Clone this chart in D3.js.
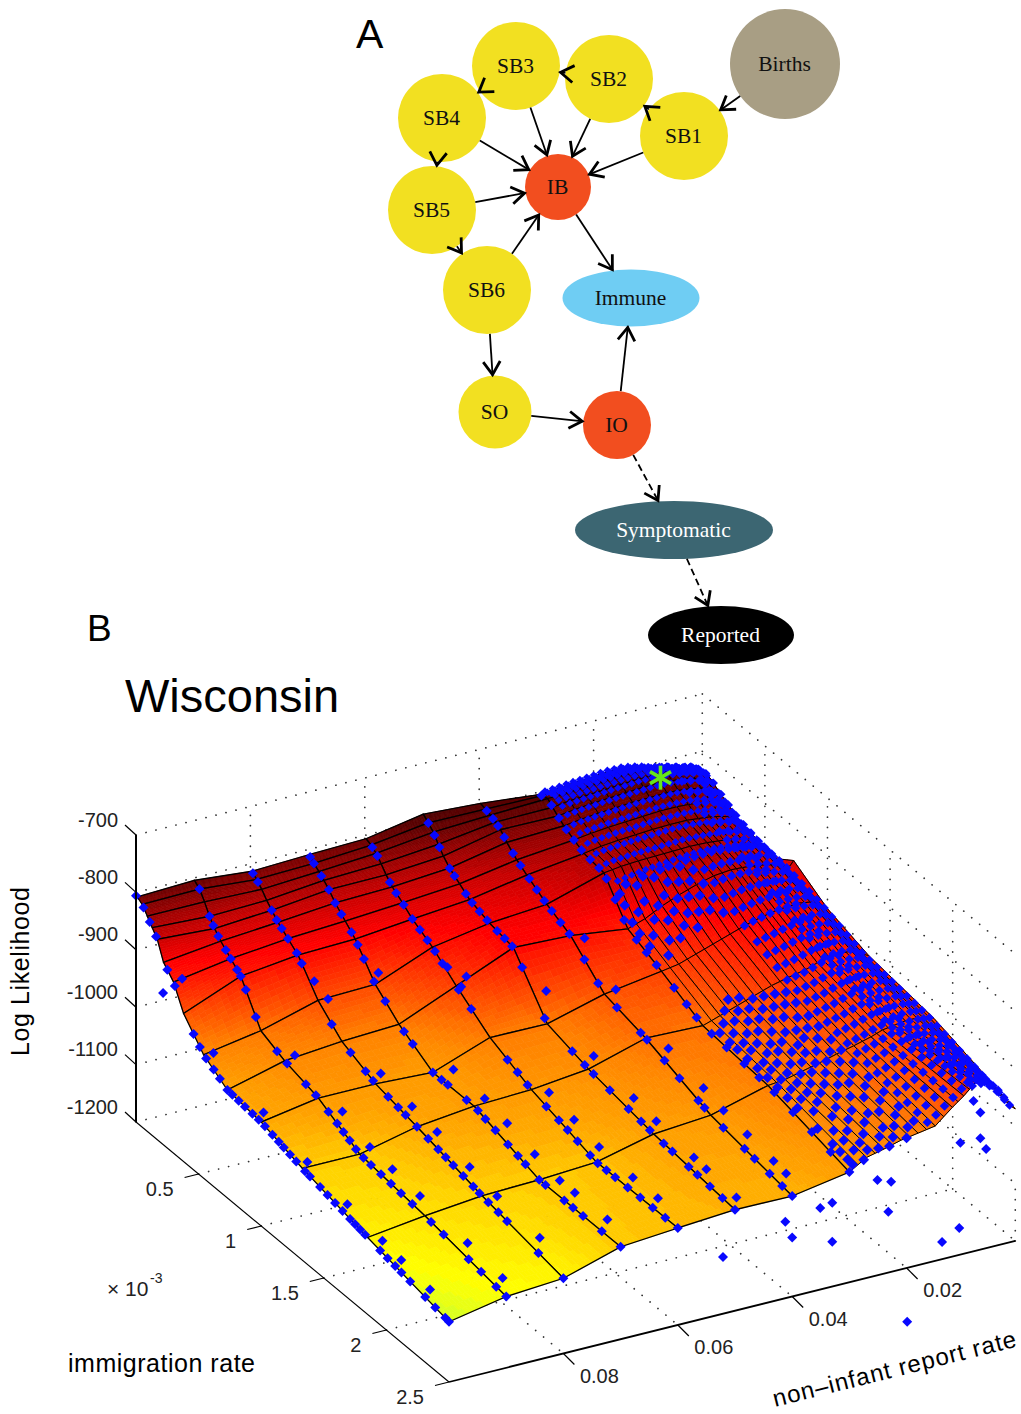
<!DOCTYPE html>
<html>
<head>
<meta charset="utf-8">
<script src="https://cdn.jsdelivr.net/npm/d3@7"></script>
<style>
body { margin: 0; background: #fff; }
svg { display: block; }
text { font-family: "Liberation Sans", sans-serif; }
</style>
</head>
<body>
<svg width="1021" height="1414"></svg>
<script>
// panel A
const edges = [
	['Births', 'SB1'], ['SB1', 'SB2'], ['SB2', 'SB3'], ['SB3', 'SB4'], ['SB4', 'SB5'], ['SB5', 'SB6'],
	['SB1', 'IB'], ['SB2', 'IB'], ['SB3', 'IB'], ['SB4', 'IB'], ['SB5', 'IB'], ['SB6', 'IB'],
	['IB', 'Immune'], ['SB6', 'SO'], ['SO', 'IO'], ['IO', 'Immune'],
];
const dashedEdges = [['IO', 'Symptomatic'], ['Symptomatic', 'Reported']];

// panel B ticks
const likTicks = [-700, -800, -900, -1000, -1100, -1200];
const imTicks = [0.5, 1, 1.5, 2, 2.5];
const repTicks = [0.08, 0.06, 0.04, 0.02];

// immigration rate (x 10^-3) of the surface grid
const imGrid = [0.01, 0.05, 0.09, 0.13, 0.17, 0.22, 0.3, 0.38, 0.54, 0.73, 1.0, 1.33, 1.85, 2.5];
// report rate of the surface grid, far to near
const repGrid = [0.001, 0.002, 0.003, 0.004, 0.006, 0.008, 0.01, 0.012, 0.015, 0.018, 0.021, 0.024, 0.027, 0.03, 0.04, 0.05, 0.06, 0.07, 0.08, 0.09, 0.1];
// log likelihood, one row per repGrid value
const likGrid = [
	[-845, -850, -855, -860, -865, -870, -878, -885, -888, -858, -893, -915, -930, -970],
	[-828, -840, -850, -853, -856, -858, -860, -863, -866, -870, -884, -910, -924, -961],
	[-822, -816, -812, -812, -816, -824, -834, -844, -854, -862, -878, -905, -923, -945],
	[-820, -812, -806, -806, -810, -818, -828, -838, -848, -858, -874, -900, -922, -930],
	[-815, -806, -800, -800, -804, -812, -822, -832, -842, -853, -871, -898, -922, -915],
	[-810, -800, -795, -796, -800, -808, -818, -828, -838, -850, -872, -900, -925, -907],
	[-805, -795, -790, -792, -798, -806, -816, -826, -836, -848, -874, -905, -928, -925],
	[-798, -791, -787, -790, -796, -805, -815, -824, -834, -847, -878, -912, -935, -940],
	[-792, -788, -786, -790, -797, -806, -815, -824, -833, -850, -885, -918, -943, -965],
	[-792, -789, -787, -792, -799, -807, -817, -825, -834, -858, -895, -925, -950, -970],
	[-795, -790, -789, -794, -801, -809, -819, -827, -835, -868, -905, -935, -958, -975],
	[-797, -792, -791, -796, -803, -811, -821, -829, -836, -880, -915, -945, -965, -983],
	[-800, -795, -793, -798, -806, -814, -824, -832, -838, -895, -925, -955, -972, -990],
	[-802, -796, -794, -802, -810, -818, -828, -837, -842, -905, -930, -965, -975, -1008],
	[-792, -795, -798, -803, -809, -822, -838, -850, -872, -892, -945, -962, -1002, -1025],
	[-786, -794, -803, -817, -830, -842, -855, -868, -880, -888, -972, -991, -1010, -1024],
	[-804, -808, -815, -826, -838, -850, -863, -877, -897, -930, -971, -1002, -1034, -1031],
	[-807, -815, -822, -830, -839, -853, -870, -887, -937, -972, -1007, -1006, -1040, -1039],
	[-811, -818, -828, -840, -850, -862, -876, -890, -940, -977, -1002, -1017, -1043, -1069],
	[-802, -810, -825, -843, -857, -870, -886, -902, -968, -986, -1002, -1040, -1053, -1076],
	[-806, -812, -825, -838, -851, -882, -902, -942, -985, -1012, -1019, -1040, -1066, -1095],
];
// extra mesh columns of the fine part of the grid
const extraMeshRep = [0.0035, 0.005, 0.007, 0.009, 0.011, 0.0135, 0.0165, 0.0195, 0.0225, 0.0255, 0.0285];

// sampled parameter sets that sit on the surface: report rate, immigration rates
const columnSamples = [
	[0.1, [0, 0.06, 0.11, 0.16, 0.25, 0.31, 0.46, 0.51, 0.56, 0.62, 0.67, 0.73, 0.77, 0.82, 0.87, 0.93, 0.98, 1.03, 1.09, 1.14, 1.18, 1.23, 1.28, 1.35, 1.39, 1.47, 1.53, 1.59, 1.65, 1.71, 1.75, 1.79, 1.83, 1.95, 2.01, 2.07, 2.12, 2.19, 2.31, 2.39, 2.47, 2.5]],
	[0.0985, [0.3, 0.55, 0.95, 1.3, 1.62, 1.9, 2.05, 2.28]],
	[0.09, [0.05, 0.13, 0.16, 0.2, 0.26, 0.3, 0.35, 0.38, 0.42, 0.5, 0.67, 0.75, 0.9, 0.98, 1.08, 1.15, 1.2, 1.25, 1.3, 1.36, 1.42, 1.5, 1.58, 1.66, 1.75, 1.9, 2.0, 2.2, 2.3, 2.42, 2.5]],
	[0.088, [0.72, 1.1, 1.32, 1.5, 1.72, 2.1, 2.38]],
	[0.08, [0.02, 0.06, 0.17, 0.21, 0.25, 0.3, 0.37, 0.41, 0.65, 0.8, 0.92, 0.98, 1.1, 1.18, 1.24, 1.33, 1.42, 1.5, 1.56, 1.62, 1.7, 1.78, 1.83, 1.9, 1.98, 2.05, 2.3, 2.5]],
	[0.078, [0.95, 1.2, 1.4, 1.66, 1.88, 2.22]],
	[0.07, [0.02, 0.05, 0.11, 0.17, 0.22, 0.27, 0.35, 0.4, 0.45, 0.53, 0.62, 0.77, 0.84, 1.0, 1.07, 1.12, 1.27, 1.36, 1.42, 1.5, 1.6, 1.68, 1.74, 1.85, 1.9, 2.05, 2.12, 2.2, 2.35, 2.5]],
	[0.0675, [1.05, 1.3, 1.48, 1.7, 1.9, 2.02, 2.28]],
	[0.06, [0.06, 0.1, 0.2, 0.25, 0.31, 0.38, 0.44, 0.5, 0.56, 0.62, 0.75, 0.85, 1.14, 1.22, 1.3, 1.45, 1.55, 1.62, 1.7, 1.8, 1.86, 1.93, 2.0, 2.1, 2.2, 2.3, 2.4, 2.5]],
	[0.058, [0.72, 1.38, 1.58, 1.78, 2.05, 2.25]],
	[0.05, [0.05, 0.1, 0.14, 0.22, 0.26, 0.35, 0.4, 0.46, 0.52, 0.6, 0.66, 0.72, 0.8, 0.98, 1.2, 1.3, 1.37, 1.5, 1.65, 1.75, 1.82, 1.93, 2, 2.13, 2.2, 2.3, 2.4, 2.5]],
	[0.048, [0.9, 1.28, 1.6, 1.78, 2.08, 2.18, 2.42]],
	[0.04, [0.06, 0.11, 0.15, 0.2, 0.27, 0.33, 0.4, 0.46, 0.52, 0.58, 0.65, 0.72, 0.84, 0.95, 1.1, 1.29, 1.34, 1.48, 1.6, 1.75, 1.8, 1.95, 2.12, 2.2, 2.32, 2.42, 2.5]],
	[0.038, [0.75, 1.0, 1.42, 1.7, 1.86, 2.05, 2.26, 2.36]],
	[0.03, [0.04, 0.12, 0.18, 0.24, 0.3, 0.36, 0.43, 0.5, 0.56, 0.63, 0.7, 0.8, 0.88, 0.96, 1.1, 1.2, 1.28, 1.4, 1.52, 1.66, 1.78, 1.9, 2.05, 2.2, 2.35, 2.5]],
];
// the dense stripes near the likelihood peak
const stripeIm = [0, 0.02, 0.05, 0.08, 0.11, 0.14, 0.18, 0.23, 0.28, 0.34, 0.41, 0.49, 0.58];
const stripeRep = [0.0285, 0.0272, 0.026, 0.0248, 0.0236, 0.0224, 0.0212, 0.02, 0.0188, 0.0176, 0.0164, 0.0152, 0.014, 0.0128, 0.0116, 0.0104, 0.0092, 0.008, 0.0068, 0.0056, 0.0044, 0.0032, 0.0022];
// the solid band along the low report rate edge
const edgeRep = [0.002, 0.003, 0.004, 0.0055, 0.007, 0.0085];
const edgeIm = [0, 0.06, 0.12, 0.18, 0.24, 0.3, 0.36, 0.42, 0.48, 0.54, 0.6, 0.66, 0.72, 0.78, 0.84, 0.9, 0.96, 1.02, 1.08, 1.14, 1.2, 1.26, 1.32, 1.38, 1.44, 1.5, 1.56, 1.62, 1.68, 1.74, 1.8, 1.86, 1.92, 1.98, 2.04, 2.1, 2.16, 2.22, 2.28, 2.34, 2.4, 2.46, 2.5];
// scattered samples further down the fine part of the grid
const fineSamples = [
	[0.029, [0.62, 0.66, 0.72, 0.78, 0.86, 1.42, 1.5, 1.56, 1.64, 1.72, 1.8, 1.88, 1.96, 2.04, 2.2, 2.32, 2.38, 2.44, 2.48]],
	[0.0275, [0.6, 0.7, 0.82, 0.94, 1.38, 1.46, 1.54, 1.6, 1.7, 1.76, 1.84, 1.92, 2.0, 2.1, 2.26, 2.34, 2.42, 2.5]],
	[0.026, [0.62, 0.68, 0.76, 0.88, 1.32, 1.4, 1.5, 1.58, 1.66, 1.74, 1.82, 1.9, 1.98, 2.06, 2.18, 2.3, 2.4, 2.46]],
	[0.0245, [0.6, 0.72, 0.8, 0.9, 1.28, 1.36, 1.44, 1.52, 1.62, 1.68, 1.78, 1.86, 1.94, 2.02, 2.14, 2.24, 2.36, 2.48]],
	[0.023, [0.62, 0.7, 0.78, 0.86, 1.3, 1.38, 1.46, 1.56, 1.64, 1.72, 1.8, 1.88, 1.98, 2.08, 2.2, 2.3, 2.42, 2.5]],
	[0.0215, [0.6, 0.66, 0.74, 0.82, 0.9, 1.34, 1.42, 1.5, 1.6, 1.7, 1.76, 1.84, 1.92, 2.02, 2.12, 2.26, 2.38, 2.46]],
	[0.02, [0.6, 0.68, 0.76, 0.84, 1.36, 1.44, 1.52, 1.62, 1.68, 1.78, 1.86, 1.96, 2.04, 2.16, 2.28, 2.4, 2.5]],
	[0.0185, [0.62, 0.7, 0.78, 0.86, 1.38, 1.46, 1.56, 1.64, 1.72, 1.82, 1.9, 2.0, 2.1, 2.22, 2.34, 2.44]],
	[0.017, [0.6, 0.66, 0.74, 0.82, 0.9, 1.4, 1.48, 1.58, 1.66, 1.76, 1.84, 1.94, 2.06, 2.18, 2.3, 2.42]],
];
const denseRep = [0.0155, 0.014, 0.0125, 0.011, 0.0095, 0.008, 0.0065];
const denseIm = [0.6, 0.68, 0.76, 0.84, 0.92, 1.0, 1.1, 1.18, 1.26, 1.34, 1.42, 1.5, 1.58, 1.66, 1.74, 1.82, 1.9, 1.98, 2.06, 2.14, 2.22, 2.3, 2.38, 2.46];
// samples that fall away from the surface: immigration, report rate, log likelihood
const strayIm = [2.5, 2.5, 2.5, 2.5, 2.5, 2.5, 2.5, 2.5, 2.5, 2.5, 2.5, 2.5, 2.5, 2.5, 2.5, 2.5, 2.5, 0.216, 0.62, 0.565, 0.66, 0.77, 0.51];
const strayRep = [0.0521, 0.04, 0.0412, 0.0351, 0.033, 0.033, 0.0232, 0.0251, 0.0227, 0.0138, 0.0108, 0.0199, 0.0106, 0.0071, 0.0061, 0.0083, 0.0071, 0.1, 0.08, 0.07, 0.06, 0.06, 0.08];
const strayLik = [-1101, -1097, -1067, -1058, -1054, -1122, -1094, -1034, -1043, -1170, -1153, -1294, -1005, -1006, -1027, -938, -961, -936, -923, -912, -910, -924, -912];
// best parameter set
const bestIm = 0.05;
const bestRep = 0.0094;
const bestLik = -816;

const svg = d3.select('svg');

// ---- panel A ----
const yellow = '#f2e021';
const layout = {
	Births: { x: 785, y: 64, rx: 55, ry: 55, fill: '#a89e84' },
	SB1: { x: 684, y: 136, rx: 44, ry: 44, fill: yellow },
	SB2: { x: 609, y: 79, rx: 44, ry: 44, fill: yellow },
	SB3: { x: 516, y: 66, rx: 44, ry: 44, fill: yellow },
	SB4: { x: 442, y: 118, rx: 44, ry: 44, fill: yellow },
	SB5: { x: 432, y: 210, rx: 44, ry: 44, fill: yellow },
	SB6: { x: 487, y: 290, rx: 44, ry: 44, fill: yellow },
	IB: { x: 558, y: 187, rx: 33, ry: 33, fill: '#f24e1f' },
	Immune: { x: 631, y: 298, rx: 68.5, ry: 28.5, fill: '#6fcdf3' },
	SO: { x: 495, y: 412, rx: 36.5, ry: 36.5, fill: yellow },
	IO: { x: 617, y: 425, rx: 34, ry: 34, fill: '#f24e1f' },
	Symptomatic: { x: 674, y: 530, rx: 99, ry: 29, fill: '#3c6672', color: '#fff' },
	Reported: { x: 721, y: 635, rx: 73, ry: 29, fill: '#000', color: '#fff' },
};

svg.append('defs').append('marker')
	.attr('id', 'arrow')
	.attr('markerUnits', 'userSpaceOnUse')
	.attr('viewBox', '-18 -11 20 22')
	.attr('markerWidth', 20)
	.attr('markerHeight', 22)
	.attr('refX', 0)
	.attr('refY', 0)
	.attr('orient', 'auto')
	.append('path')
	.attr('d', 'M-14,-8.5 L-1,0 L-14,8.5')
	.attr('fill', 'none')
	.attr('stroke', '#000')
	.attr('stroke-width', 2.8);

const nodes = svg.append('g').selectAll('g').data(Object.keys(layout)).enter().append('g');
nodes.append('ellipse')
	.attr('cx', (d) => layout[d].x)
	.attr('cy', (d) => layout[d].y)
	.attr('rx', (d) => layout[d].rx)
	.attr('ry', (d) => layout[d].ry)
	.attr('fill', (d) => layout[d].fill);
nodes.append('text')
	.attr('x', (d) => layout[d].x - 0.5)
	.attr('y', (d) => layout[d].y + 7)
	.attr('text-anchor', 'middle')
	.attr('fill', (d) => layout[d].color || '#111')
	.style('font-family', '"Liberation Serif", serif')
	.style('font-size', '21.5px')
	.text((d) => d);

const rim = (node, dx, dy) => {
	const t = 1 / Math.hypot(dx / node.rx, dy / node.ry);
	return [node.x + dx * t, node.y + dy * t];
};
const drawEdges = (list, dash) => {
	list.forEach(([from, to]) => {
		const a = layout[from];
		const b = layout[to];
		const p = rim(a, b.x - a.x, b.y - a.y);
		const q = rim(b, a.x - b.x, a.y - b.y);
		svg.append('line')
			.attr('x1', p[0]).attr('y1', p[1])
			.attr('x2', q[0]).attr('y2', q[1])
			.attr('stroke', '#000')
			.attr('stroke-width', 1.8)
			.attr('stroke-dasharray', dash)
			.attr('marker-end', 'url(#arrow)');
	});
};
drawEdges(edges, null);
drawEdges(dashedEdges, '7 4');

// ---- panel B: the oblique box of the 3D plot ----
const repMin = 0.001;
const xFromIm = d3.scaleLinear().domain([0, 2.5]).range([0, 313]);
const yFromIm = d3.scaleLinear().domain([0, 2.5]).range([0, 260]);
const xFromRep = d3.scaleLinear().domain([0.1, 0]).range([0, 572]);
const yFromRep = d3.scaleLinear().domain([0.1, 0]).range([0, -142.5]);
const yFromLik = d3.scaleLinear().domain([-1200, -700]).range([0, -287]);
const project = (im, rep, lik) => [
	136 + xFromIm(im) + xFromRep(rep),
	1122 + yFromIm(im) + yFromRep(rep) + yFromLik(lik),
];

const line = d3.line();
const dotted = svg.append('g')
	.attr('fill', 'none')
	.attr('stroke', '#333')
	.attr('stroke-width', 1.7)
	.attr('stroke-linecap', 'round')
	.attr('stroke-dasharray', '0.1 10.2');
const dots = (a, b) => dotted.append('path').attr('d', line([a, b]));

likTicks.forEach((z) => {
	dots(project(0, 0.1, z), project(0, repMin, z));
	dots(project(0, repMin, z), project(2.5, repMin, z));
});
repTicks.forEach((r) => {
	dots(project(0, r, -1200), project(0, r, -700));
	dots(project(0, r, -1200), project(2.5, r, -1200));
});
imTicks.slice(0, 4).forEach((m) => {
	dots(project(m, repMin, -1200), project(m, repMin, -700));
	dots(project(m, 0.1, -1200), project(m, repMin, -1200));
});
dots(project(0, repMin, -1200), project(0, repMin, -700));
dots(project(2.5, repMin, -1200), project(2.5, repMin, -1100));

// surface colours, banded like a 64 level colormap
const surfaceColor = d3.scaleLinear()
	.domain([-1100, -1075, -1050, -1020, -975, -930, -885, -850, -820, -790])
	.range(['#c8ff32', '#ffff00', '#ffdc00', '#ffaa00', '#ff8000', '#ff4000', '#ff0000', '#c80000', '#900000', '#500000'])
	.clamp(true);
const bandCount = 56;
const bands = d3.scaleQuantize()
	.domain([-1105, -785])
	.range(d3.range(bandCount).map((i) => surfaceColor(-1105 + ((i + 0.5) * 320) / bandCount)));

const surface = svg.append('g');
for (let j = 0; j < imGrid.length - 1; j++) {
	for (let i = 0; i < repGrid.length - 1; i++) {
		const z00 = likGrid[i][j];
		const z01 = likGrid[i][j + 1];
		const z10 = likGrid[i + 1][j];
		const z11 = likGrid[i + 1][j + 1];
		const at = (u, v) => {
			const im = imGrid[j] + u * (imGrid[j + 1] - imGrid[j]);
			const rep = repGrid[i] + v * (repGrid[i + 1] - repGrid[i]);
			const lik = d3.interpolateNumber(
				d3.interpolateNumber(z00, z01)(u),
				d3.interpolateNumber(z10, z11)(u)
			)(v);
			return { p: project(im, rep, lik), lik };
		};
		const span = Math.max(
			Math.hypot(at(1, 0).p[0] - at(0, 0).p[0], at(1, 0).p[1] - at(0, 0).p[1]),
			Math.hypot(at(0, 1).p[0] - at(0, 0).p[0], at(0, 1).p[1] - at(0, 0).p[1])
		);
		const n = Math.min(16, Math.max(2, Math.ceil(span / 7)));
		for (let a = 0; a < n; a++) {
			for (let b = 0; b < n; b++) {
				const c1 = at(a / n, b / n);
				const c2 = at((a + 1) / n, b / n);
				const c3 = at((a + 1) / n, (b + 1) / n);
				const c4 = at(a / n, (b + 1) / n);
				const fill = bands((c1.lik + c2.lik + c3.lik + c4.lik) / 4);
				surface.append('path')
					.attr('d', line([c1.p, c2.p, c3.p, c4.p]) + 'Z')
					.attr('fill', fill)
					.attr('stroke', fill)
					.attr('stroke-width', 0.7);
			}
		}
		// mesh line of this patch
		surface.append('path')
			.attr('d', line([at(0, 0).p, at(1, 0).p, at(1, 1).p, at(0, 1).p]) + 'Z')
			.attr('fill', 'none')
			.attr('stroke', '#000')
			.attr('stroke-width', i < 13 ? 1 : 1.3);
	}
}

// samples on the surface read their likelihood off the grid
const likAt = (im, rep) => {
	const iy = d3.scaleLinear().domain(repGrid).range(d3.range(repGrid.length)).clamp(true)(rep);
	const ix = d3.scaleLinear().domain(imGrid).range(d3.range(imGrid.length)).clamp(true)(im);
	const i = Math.min(Math.floor(iy), repGrid.length - 2);
	const j = Math.min(Math.floor(ix), imGrid.length - 2);
	const top = d3.interpolateNumber(likGrid[i][j], likGrid[i][j + 1])(ix - j);
	const bottom = d3.interpolateNumber(likGrid[i + 1][j], likGrid[i + 1][j + 1])(ix - j);
	return d3.interpolateNumber(top, bottom)(iy - i);
};

extraMeshRep.forEach((r) => {
	surface.append('path')
		.attr('d', line(imGrid.slice(7).map((m) => project(m, r, likAt(m, r)))))
		.attr('fill', 'none')
		.attr('stroke', '#000')
		.attr('stroke-width', 1);
});

const diamonds = svg.append('g').attr('fill', '#0808ff');
const diamond = (p, size) => {
	diamonds.append('path')
		.attr('transform', `translate(${p[0]},${p[1]})`)
		.attr('d', line([[0, -size], [size, 0], [0, size], [-size, 0]]) + 'Z');
};
stripeIm.forEach((m) => stripeRep.forEach((r) => diamond(project(m, r, likAt(m, r)), 3.8)));
denseRep.forEach((r) => denseIm.forEach((m) => diamond(project(m, r, likAt(m, r)), 4.8)));
edgeRep.forEach((r) => edgeIm.forEach((m) => diamond(project(m, r, likAt(m, r)), 4.6)));
fineSamples.forEach(([r, ims]) => ims.forEach((m) => diamond(project(m, r, likAt(m, r)), 5.4)));
columnSamples.forEach(([r, ims]) => ims.forEach((m) => diamond(project(m, r, likAt(m, r)), 5)));
strayIm.forEach((m, i) => diamond(project(m, strayRep[i], strayLik[i]), 5));

// best fit asterisk
const best = project(bestIm, bestRep, bestLik);
const star = svg.append('g').attr('transform', `translate(${best[0]},${best[1]})`);
[[0, -12, 0, 12], [-10.5, -6, 10.5, 6], [-10.5, 6, 10.5, -6]].forEach((s) => {
	star.append('line')
		.attr('x1', s[0]).attr('y1', s[1]).attr('x2', s[2]).attr('y2', s[3])
		.attr('stroke', '#66e61a')
		.attr('stroke-width', 3.6);
});

// axes
const axes = svg.append('g').attr('fill', 'none').attr('stroke', '#000');
const tickText = svg.append('g').attr('fill', '#222').style('font-size', '20px');

axes.append('path').attr('d', line([project(0, 0.1, -700), project(0, 0.1, -1200)])).attr('stroke-width', 2);
axes.append('path').attr('d', line([project(0, 0.1, -1200), project(2.5, 0.1, -1200)])).attr('stroke-width', 1.1);
axes.append('path').attr('d', line([project(2.5, 0.1, -1200), project(2.5, repMin, -1200)])).attr('stroke-width', 1.8);

likTicks.forEach((z) => {
	const p = project(0, 0.1, z);
	axes.append('path').attr('d', line([p, [p[0] - 11, p[1] - 10]])).attr('stroke-width', 1.2);
	tickText.append('text')
		.attr('x', p[0] - 18)
		.attr('y', p[1] - 8.5)
		.attr('text-anchor', 'end')
		.text(z);
});
imTicks.forEach((m) => {
	const p = project(m, 0.1, -1200);
	axes.append('path').attr('d', line([p, [p[0] - 14, p[1] + 3.5]])).attr('stroke-width', 1.2);
	tickText.append('text')
		.attr('x', p[0] - 25)
		.attr('y', p[1] + 22)
		.attr('text-anchor', 'end')
		.text(m);
});
repTicks.forEach((r) => {
	const p = project(2.5, r, -1200);
	axes.append('path').attr('d', line([p, [p[0] + 11, p[1] + 11]])).attr('stroke-width', 1.2);
	tickText.append('text')
		.attr('x', p[0] + 36)
		.attr('y', p[1] + 29)
		.attr('text-anchor', 'middle')
		.text(r);
});

// labels
const label = (str, x, y, size, opts = {}) => svg.append('text')
	.attr('x', x)
	.attr('y', y)
	.attr('fill', opts.fill || '#000')
	.attr('text-anchor', opts.anchor || 'start')
	.attr('transform', opts.rotate ? `rotate(${opts.rotate} ${x} ${y})` : null)
	.attr('textLength', opts.length || null)
	.style('font-size', size + 'px')
	.text(str);

label('A', 356, 48, 41);
label('B', 87, 641, 37);
label('Wisconsin', 125, 712, 47);
label('Log Likelihood', 29, 1056, 25, { rotate: -90, length: 169 });
label('immigration rate', 68, 1372, 25, { length: 187 });
label('non\u2013infant report rate', 775, 1407, 24, { rotate: -14, length: 250 });
label('\u00d7 10', 107, 1296, 21, { fill: '#222' });
label('-3', 150, 1283, 14, { fill: '#222' });
</script>
</body>
</html>
